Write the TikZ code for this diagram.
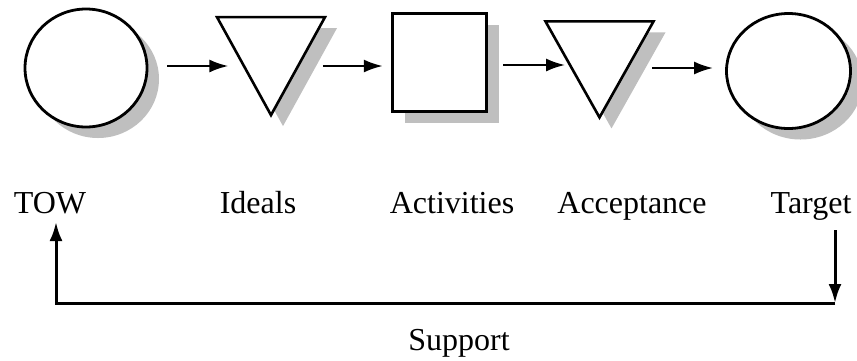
\documentclass[tikz,border=0pt]{standalone}
\usepackage{fontspec}
\setmainfont{Liberation Serif}
\usetikzlibrary{shapes.geometric,arrows.meta,shadows,positioning}
\tikzset{
    drop/.style = {drop shadow={shadow xshift=12pt, shadow yshift=-11pt, fill=black!25, opacity=1}},
    state/.style = {ellipse, draw, fill=white, line width=2.8pt, drop, inner sep=0pt},
    funnel/.style = {isosceles triangle, isosceles triangle stretches, shape border rotate=-90, draw, fill=white, line width=2.6pt, drop, inner sep=0pt},
    task/.style = {rectangle, draw, fill=white, line width=3.3pt, drop, inner sep=0pt},
    flow/.style = {-{Latex[length=19pt,width=13pt]}, line width=2.4pt},
    back/.style = {-{Latex[length=19pt,width=13pt]}, line width=3pt},
    lbl/.style = {font=\fontsize{32}{38}\selectfont, inner sep=0pt, anchor=base}
}

\begin{document}
\begin{tikzpicture}[x=1pt, y=-1pt]
    \useasboundingbox (0,0) rectangle (857,360);

    \node[state, minimum width=122pt, minimum height=118pt] (tow) at (86,68) {};
    \node[funnel, minimum width=108pt, minimum height=98pt] (ideals) at (271,49) {};
    \node[task, minimum width=94pt, minimum height=98pt] (activities) at (439.5,62.5) {};
    \node[funnel, minimum width=108pt, minimum height=96pt] (acceptance) at (599.5,53) {};
    \node[state, minimum width=124pt, minimum height=115pt] (target) at (788.5,71) {};

    \draw[flow] (tow.east) ++(19,-2) -- ++(61,0);
    \draw[flow] (activities.west) ++(-68,3.5) -- ++(60,0);
    \draw[flow] (activities.east) ++(15,2.5) -- ++(62,0);
    \draw[flow] (target.west) ++(-73,-3) -- ++(61,0);

    \node[lbl] (towlbl) at (50,213) {TOW};
    \node[lbl] (ideallbl) at (258,213) {Ideals};
    \node[lbl] (actlbl) at (452,213) {Activities};
    \node[lbl] (acclbl) at (632,213) {Acceptance};
    \node[lbl] (tgtlbl) at (811,213) {Target};
    \node[lbl] (suplbl) at (459,350) {Support};

    % feedback loop
    \coordinate (tgtout) at (835,230);
    \coordinate (corner) at (835,303);
    \coordinate (towin) at (56,222);
    \draw[back] (tgtout) -- (corner);
    \draw[back] (corner) -| (towin);
\end{tikzpicture}
\end{document}
